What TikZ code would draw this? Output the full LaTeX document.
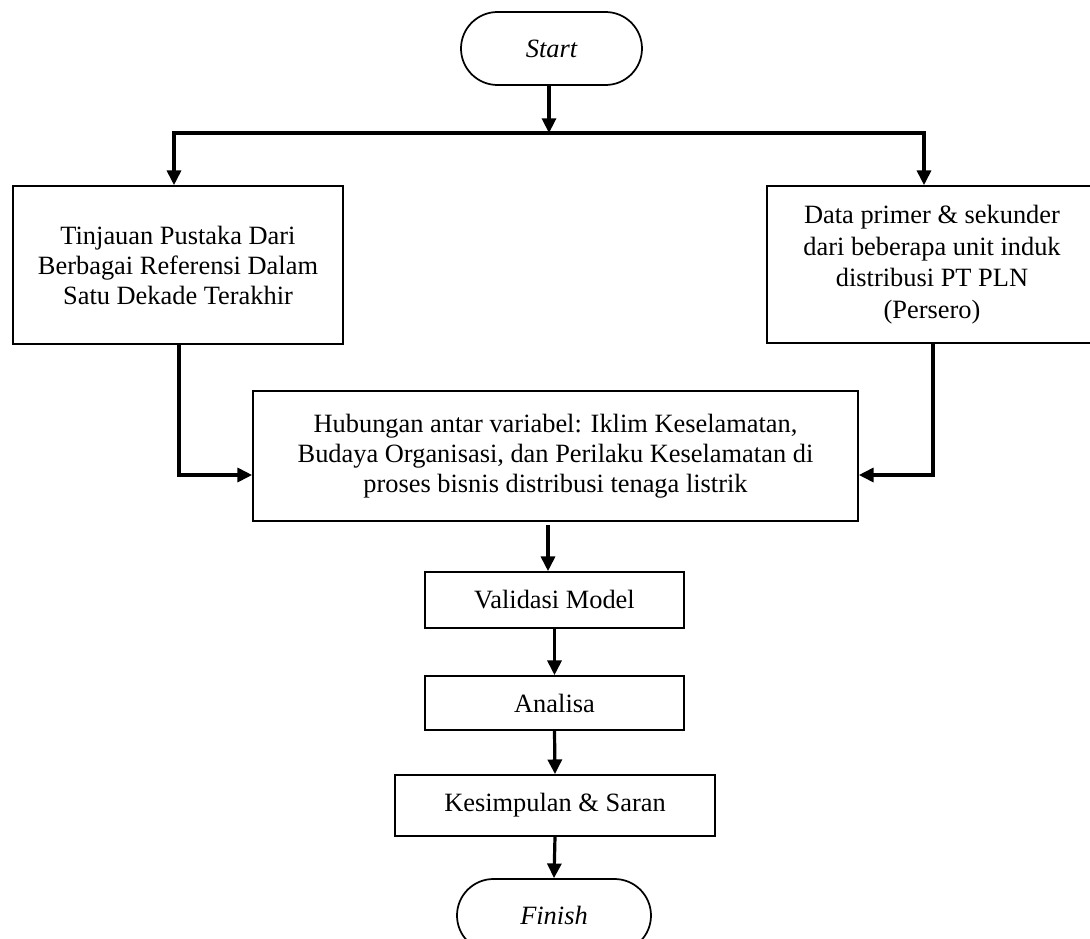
\documentclass[tikz,border=0pt]{standalone}
\usepackage{fontspec}
\setmainfont{Liberation Serif}
\usetikzlibrary{arrows.meta,calc,shapes.misc}
\begin{document}
\begin{tikzpicture}[x=0.75pt,y=-0.75pt,
  box/.style={draw,line width=1.3pt,rectangle,align=center,inner sep=0pt,font=\fontsize{19.8}{22.5}\selectfont},
  term/.style={draw,line width=1.3pt,rounded rectangle,inner sep=0pt,font=\fontsize{19.8}{22.5}\selectfont\itshape},
  conn/.style={line width=2.4pt,-{Triangle[length=11pt,width=10.5pt]}}
]
\clip (0,0) rectangle (1090,939);
\fill[white] (0,0) rectangle (1090,939);
\node[term,minimum width=135.75pt,minimum height=54.75pt] (start) at (551.5,48.5) {Start};
\node[box,minimum width=247.5pt,minimum height=118.5pt] (lbox) at (178,265) {Tinjauan Pustaka Dari\\Berbagai Referensi Dalam\\Satu Dekade Terakhir};
\node[box,minimum width=247.5pt,minimum height=117.75pt,font=\fontsize{19.8}{23.6}\selectfont] (rbox) at (932,264.5) {Data primer \& sekunder\\dari beberapa unit induk\\distribusi PT PLN\\(Persero)};
\node[box,minimum width=453.75pt,minimum height=97.5pt] (mid) at (555.5,456) {Hubungan antar variabel: Iklim Keselamatan,\\Budaya Organisasi, dan Perilaku Keselamatan di\\proses bisnis distribusi tenaga listrik};
\node[box,minimum width=194.25pt,minimum height=42pt] (val) at (554.5,600) {Validasi Model};
\node[box,minimum width=194.25pt,minimum height=40.5pt] (ana) at (554.5,703) {Analisa};
\node[box,minimum width=240pt,minimum height=45.75pt] (kes) at (555,805.5) {Kesimpulan \& Saran};
\node[term,minimum width=145.5pt,minimum height=54.75pt] (fin) at (554,915.5) {Finish};
\coordinate (j) at (549,133);
\coordinate (a1) at (548,525);
\draw[conn] (start.south -| j) -- (j);
\draw[conn] (j) -| ($(lbox.north)+(-4,0)$);
\draw[conn] (j) -| ($(rbox.north)+(-8,0)$);
\draw[conn] ($(lbox.south)+(1,0)$) |- ($(mid.west)+(0,19)$);
\draw[conn] ($(rbox.south)+(1,0)$) |- ($(mid.east)+(0,19)$);
\draw[conn] (a1) -- (a1 |- val.north);
\draw[conn] (val.south) -- (ana.north);
\draw[conn] (ana.south) -- (kes.north);
\draw[conn] (kes.south) -- (fin.north);
\end{tikzpicture}
\end{document}
